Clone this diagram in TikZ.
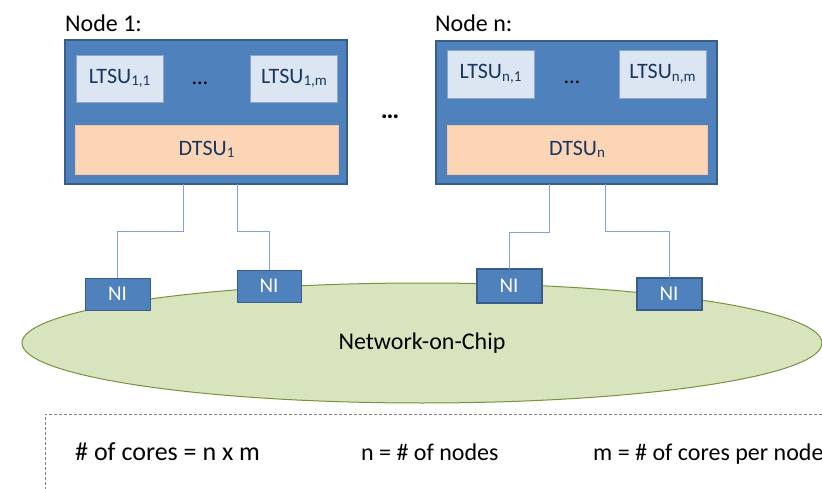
\documentclass[tikz,border=0pt]{standalone}
\usepackage{fontspec}
\setmainfont{Carlito}
\usetikzlibrary{shapes.geometric}
\definecolor{nodeblue}{HTML}{4F81BD}
\definecolor{nodeborder}{HTML}{385D8A}
\definecolor{ltsufill}{HTML}{DCE6F2}
\definecolor{ltsuborder}{HTML}{8EA6C6}
\definecolor{ltsutext}{HTML}{17375E}
\definecolor{dtsufill}{HTML}{FBD5B5}
\definecolor{dtsuborder}{HTML}{EBC7A8}
\definecolor{nocfill}{HTML}{D7E4BD}
\definecolor{nocborder}{HTML}{77933C}
\definecolor{wirecol}{HTML}{7FA3D3}
\definecolor{dashcol}{HTML}{808080}
\newcommand{\fs}[1]{\fontsize{#1}{#1}\selectfont}
\newcommand{\subx}[1]{\raisebox{-2.5pt}{\fs{15}#1}}
\tikzset{
  outerbox/.style={draw=nodeborder, fill=nodeblue, line width=1.3pt, inner sep=0pt, outer sep=0pt},
  ltsubox/.style={draw=ltsuborder, fill=ltsufill, line width=0.8pt, inner sep=0pt, outer sep=0pt,
    minimum width=87pt, minimum height=47pt, text=ltsutext, font=\fs{22}},
  dtsubox/.style={draw=dtsuborder, fill=dtsufill, line width=0.8pt, inner sep=0pt, outer sep=0pt,
    minimum height=49pt, text=ltsutext, font=\fs{22}},
  nibox/.style={draw=nodeborder, fill=nodeblue, line width=1pt, inner sep=0pt, outer sep=0pt,
    minimum width=65pt, minimum height=32pt, text=white, font=\fs{21}},
  nithick/.style={nibox, line width=2pt},
  wire/.style={draw=wirecol, line width=0.9pt},
  lbl/.style={anchor=base west, inner sep=0pt, font=\fs{24}},
  dotlbl/.style={inner sep=0pt, font=\fs{22}}
}
\begin{document}
\begin{tikzpicture}[x=1pt, y=-1pt]
\useasboundingbox (0,0) rectangle (822,489);

% labels
\node[lbl] (lab1) at (65,32) {Node 1:};
\node[lbl] (labn) at (435,32) {Node n:};

% node 1
\node[outerbox, minimum width=282pt, minimum height=144pt] (n1) at (206,112) {};
\node[ltsubox] (l11) at (119.5,78.5) {LTSU\subx{1,1}};
\node[ltsubox] (l1m) at (294,78.5) {LTSU\subx{1,m}};
\node[dotlbl] (d1) at (200,83) {\ldots};
\node[dtsubox, minimum width=263pt] (dt1) at (206.5,149.5) {DTSU\subx{1}};

% node n
\node[outerbox, minimum width=281pt, minimum height=143pt] (nn) at (576.5,112.5) {};
\node[ltsubox, minimum height=48pt] (ln1) at (490.5,74) {LTSU\subx{n,1}};
\node[ltsubox, minimum height=48pt] (lnm) at (662.5,74) {LTSU\subx{n,m}};
\node[dotlbl] (dn) at (572,82) {\ldots};
\node[dtsubox, minimum width=260pt] (dtn) at (577,149.5) {DTSU\subx{n}};

% middle dots
\node[inner sep=0pt, font=\fs{26}\bfseries] (mid) at (390,117) {\ldots};

% network on chip
\node[ellipse, draw=nocborder, fill=nocfill, line width=1pt, minimum width=800pt, minimum height=120pt,
  inner sep=0pt, font=\fs{24}] (noc) at (422,343) {Network-on-Chip};

% junction coordinates
\coordinate (j1) at (183,231);
\coordinate (j2) at (237,231);
\coordinate (j3) at (549,232);
\coordinate (j4) at (605,231);

% NI nodes
\node[nibox] (ni1) at (117.5,294) {NI};
\node[nibox, minimum width=64pt] (ni2) at (269,286) {NI};
\node[nithick, minimum height=34pt] (ni3) at (509,286) {NI};
\node[nithick] (ni4) at (669,294) {NI};

% wires
\draw[wire] (n1.south -| j1) -- (j1) -| (ni1.north);
\draw[wire] (n1.south -| j2) -- (j2) -| (ni2.north);
\draw[wire] (nn.south -| j3) -- (j3) -| (ni3.north);
\draw[wire] (nn.south -| j4) -- (j4) -| (ni4.north);

% legend box
\coordinate (bx1) at (822,414);
\coordinate (bx2) at (45,489);
\draw[dashcol, line width=0.9pt, dash pattern=on 3pt off 2pt] (bx1) -| (bx2);
\node[anchor=base west, inner sep=0pt, font=\fs{26}] (t1) at (75,460) {\# of cores = n x m};
\node[anchor=base west, inner sep=0pt, font=\fs{24}] (t2) at (361,460) {n = \# of nodes};
\node[anchor=base west, inner sep=0pt, font=\fs{24}] (t3) at (593,460) {m = \# of cores per node};
\end{tikzpicture}
\end{document}
